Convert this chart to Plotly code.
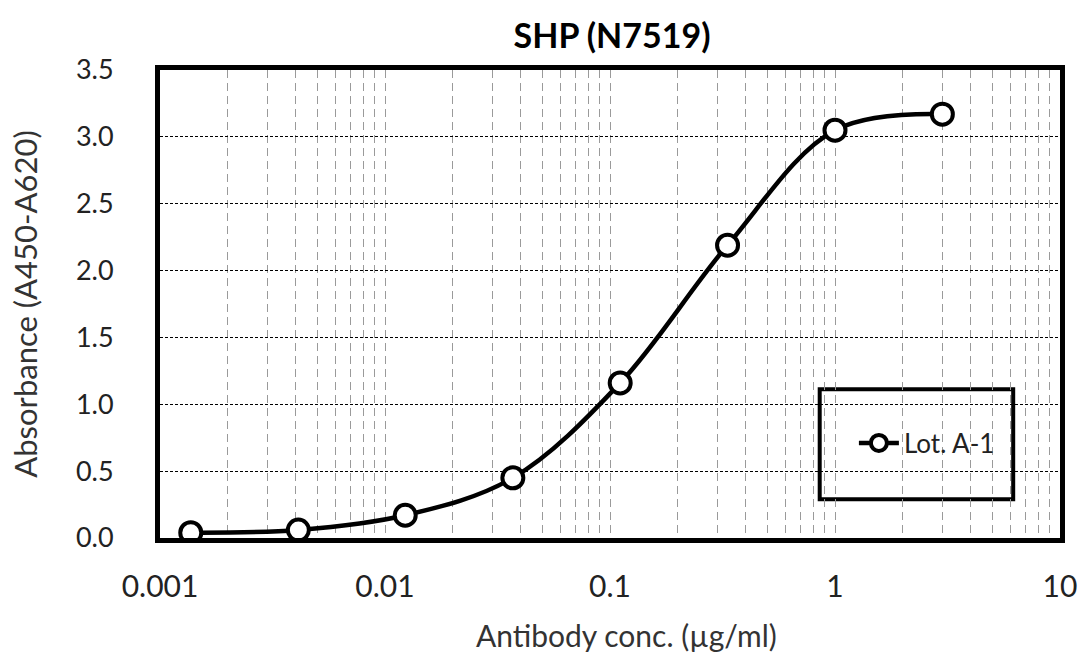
import plotly.graph_objects as go

conc = [0.00137, 0.00412, 0.0123, 0.037, 0.111, 0.333, 1.0, 3.0]
absorb = [0.04, 0.06, 0.17, 0.45, 1.16, 2.19, 3.05, 3.17]
series_name = "Lot. A-1"
x_tickvals = [0.001, 0.01, 0.1, 1, 10]
x_ticktext = ["0.001", "0.01", "0.1", "1", "10"]
y_tickvals = [0.0, 0.5, 1.0, 1.5, 2.0, 2.5, 3.0, 3.5]

minor_vals = []
for dec in [0.001, 0.01, 0.1, 1]:
    for m in range(2, 10):
        minor_vals.append(dec * m)

FONT = "Lato, Open Sans, sans-serif"

fig = go.Figure()
fig.add_trace(go.Scatter(
    x=conc, y=absorb, name=series_name, mode="lines+markers",
    line=dict(color="black", width=4.5, shape="spline", smoothing=1.0),
    marker=dict(symbol="circle", size=21, color="white",
                line=dict(color="black", width=4)),
))

fig.update_layout(
    width=1089, height=655,
    margin=dict(l=160, r=24, t=70, b=117),
    paper_bgcolor="white", plot_bgcolor="white",
    font=dict(family=FONT, color="#222", size=26),
    title=dict(text="<b>SHP (N7519)</b>", x=0.562, xanchor="center",
               y=0.945, yanchor="middle", font=dict(size=34, color="black")),
    showlegend=True,
    legend=dict(x=0.771, y=0.203, xanchor="left", yanchor="middle",
                bgcolor="rgba(0,0,0,0)", borderwidth=0,
                font=dict(size=26, color="#222"), itemwidth=40),
    shapes=[dict(type="rect", xref="paper", yref="paper",
                 x0=0.733, x1=0.948, y0=0.083, y1=0.318,
                 line=dict(color="black", width=4), fillcolor="white",
                 layer="below")],
    annotations=[dict(text="Antibody conc. (µg/ml)", xref="paper", yref="paper",
                      x=0.518, y=-0.207, xanchor="center", yanchor="middle",
                      showarrow=False, font=dict(size=30, color="#333"))],
)

fig.update_xaxes(
    type="log", range=[-3, 1],
    tickmode="array", tickvals=x_tickvals, ticktext=x_ticktext,
    ticks="", showline=True, linecolor="black", linewidth=5, mirror=True,
    showgrid=True, gridcolor="#9a9a9a", gridwidth=1, griddash="8px,5px",
    minor=dict(tickmode="array", tickvals=minor_vals, showgrid=True,
               gridcolor="#9a9a9a", gridwidth=1, griddash="8px,5px", ticks=""),
    tickfont=dict(size=30, color="#222"), ticklabelstandoff=18,
    zeroline=False,
)
fig.update_yaxes(
    range=[0, 3.5], tickmode="array", tickvals=y_tickvals, tickformat=".1f",
    ticks="", showline=True, linecolor="black", linewidth=5, mirror=True,
    showgrid=True, gridcolor="black", gridwidth=1, griddash="3px,2px",
    tickfont=dict(size=27, color="#222"), ticklabelstandoff=36,
    title=dict(text="Absorbance (A450-A620)", font=dict(size=31, color="#333"),
               standoff=31),
    zeroline=False,
)

fig.write_html("out.html", config={"displayModeBar": False})
with open("out.html", "r", encoding="utf-8") as f:
    html = f.read()
html = html.replace("<body>", '<body style="margin:0;padding:0;overflow:hidden">', 1)
with open("out.html", "w", encoding="utf-8") as f:
    f.write(html)
